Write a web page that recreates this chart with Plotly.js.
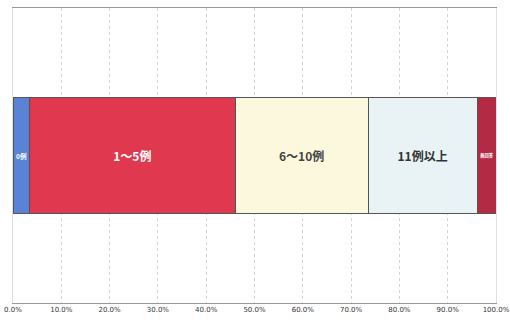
<!DOCTYPE html>
<html><head><meta charset="utf-8">
<script src="https://cdn.plot.ly/plotly-3.0.1.min.js"></script>
<style>html,body{margin:0;padding:0;background:#fff}#c{width:510px;height:322px}</style>
</head><body><div id="c"></div>
<script>
const categoryLabel = [''];
const segmentNames = ['0例', '1～5例', '6～10例', '11例以上', '無回答'];
const segmentValues = [3.4, 42.6, 27.5, 22.6, 3.9];
const segmentColors = ['#5a83d6', '#e0394f', '#fbf8de', '#e9f3f6', '#b32a45'];
const segmentTextColors = ['#ffffff', '#ffffff', '#444444', '#333333', '#ffffff'];
const tickValues = [0,10,20,30,40,50,60,70,80,90,100];
const tickLabels = ['0.0%','10.0%','20.0%','30.0%','40.0%','50.0%','60.0%','70.0%','80.0%','90.0%','100.0%'];

const traces = segmentNames.map((n, i) => ({
  type: 'bar', orientation: 'h', name: n,
  y: categoryLabel, x: [segmentValues[i]],
  marker: {color: segmentColors[i], line: {color: '#555', width: 1}},
  text: [n], textposition: 'inside', insidetextanchor: 'middle', textangle: 0,
  textfont: {family: 'Noto Sans CJK JP', size: 12, color: segmentTextColors[i], weight: 'bold'},
  hoverinfo: 'none'
}));

Plotly.newPlot('c', traces, {
  width: 510, height: 322,
  margin: {l: 13, r: 14, t: 8, b: 19},
  barmode: 'stack', bargap: 0.61, showlegend: false,
  paper_bgcolor: '#fff', plot_bgcolor: '#fff',
  xaxis: {range: [0, 100], tickvals: tickValues, ticktext: tickLabels,
    showgrid: true, gridcolor: '#d4d4d4', griddash: 'dot', zeroline: false,
    showline: true, linecolor: '#999', mirror: true, ticks: '',
    tickfont: {family: 'DejaVu Sans', size: 7, color: '#333'}},
  yaxis: {showticklabels: false, showgrid: false, zeroline: false, range: [-0.5, 0.5],
    showline: true, linecolor: '#e0e0e0', mirror: true}
}, {staticPlot: true});
</script></body></html>
